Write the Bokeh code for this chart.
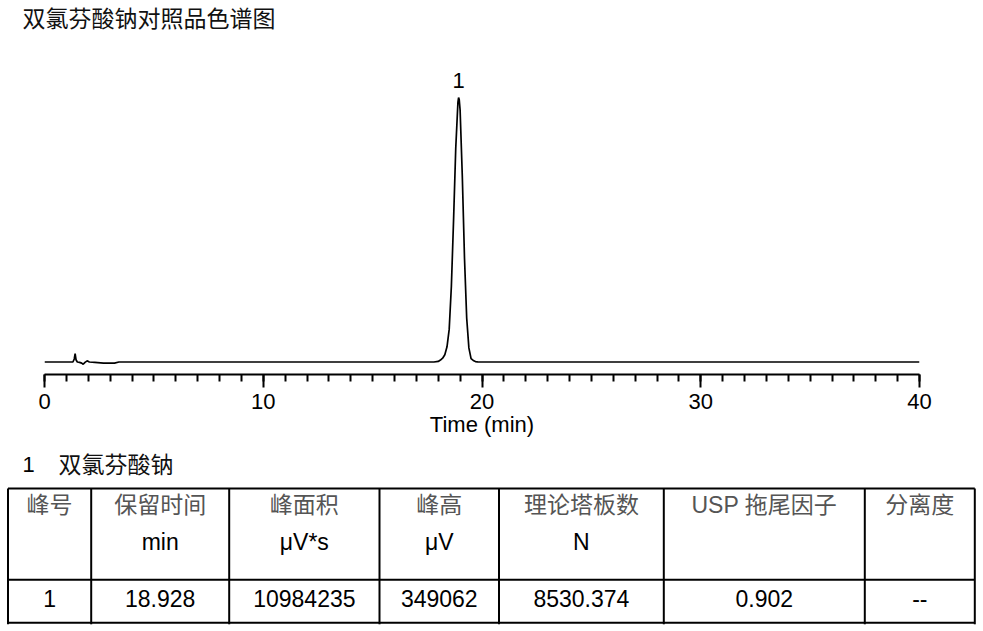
from bokeh.plotting import figure
from bokeh.models import Range1d, SingleIntervalTicker, ColumnDataSource
from bokeh.embed import file_html
from bokeh.resources import INLINE
from bokeh.core.properties import value

# ---------------- data ----------------
title_text = "双氯芬酸钠对照品色谱图"
x_label = "Time (min)"
compound_no = "1"
compound_name = "双氯芬酸钠"

time_min = [0.0, 1.30, 1.36, 1.40, 1.44, 1.50, 1.60, 1.70, 1.77, 1.85, 1.95, 2.05,
            2.30, 2.70, 3.20, 3.40, 17.80, 18.00, 18.10, 18.20, 18.30, 18.40, 18.50,
            18.60, 18.70, 18.80, 18.90, 18.93, 18.96, 19.00, 19.10, 19.20, 19.30,
            19.40, 19.50, 19.60, 19.70, 19.80, 20.00, 40.0]
signal_uv = [0, 0, 4000, 11000, 3000, 0, -500, -1500, -3000, -500, 1500, 0,
             -500, -1500, -1500, 0, 0, 800, 2500, 5000, 9500, 20000, 43000,
             99900, 187200, 282400, 343000, 349062, 346000, 332000, 244800, 136800, 58000,
             18600, 4550, 2000, 600, 150, 0, 0]

peak_labels = ["1"]
peak_times = [18.928]
peak_heights = [349062]

header_line1 = ["峰号", "保留时间", "峰面积", "峰高", "理论塔板数", "USP 拖尾因子", "分离度"]
header_line2 = ["", "min", "μV*s", "μV", "N", "", ""]
row_values = ["1", "18.928", "10984235", "349062", "8530.374", "0.902", "--"]

# ---------------- layout constants (page pixels) ----------------
W, H = 983, 631
FL, FR, FT, FB = 44, 919, 60, 374          # chromatogram frame
LATIN = "Liberation Sans"
CJK = "Noto Sans CJK SC"
MIXED = "Liberation Sans, Noto Sans CJK SC"

px_per_uv = 264.5 / 349062
base_px = 361.5   # page y of 0 µV

p = figure(width=W, height=H, x_range=Range1d(0, 40),
           y_range=Range1d(-(FB - base_px) / px_per_uv, (base_px - FT) / px_per_uv),
           y_axis_location=None, toolbar_location=None, output_backend="svg",
           min_border_left=FL, min_border_right=W - FR,
           min_border_top=FT, min_border_bottom=H - FB)
p.outline_line_color = None
p.xgrid.visible = False
p.ygrid.visible = False
p.background_fill_color = None
p.border_fill_color = "white"

# page-pixel coordinate system for title and table
p.extra_x_ranges = {"px": Range1d(FL, FR)}
p.extra_y_ranges = {"py": Range1d(FB, FT)}
PG = dict(x_range_name="px", y_range_name="py", level="overlay")

# ---- chromatogram ----
src = ColumnDataSource(dict(t=time_min, s=signal_uv))
p.line("t", "s", source=src, line_color="black", line_width=1.7)
p.text(x=peak_times, y=peak_heights, text=peak_labels, text_font=value(LATIN),
       text_font_size="22px", text_color="black", text_align="center",
       text_baseline="bottom", y_offset=-10)

ax = p.xaxis[0]
ax.ticker = SingleIntervalTicker(interval=10, num_minor_ticks=10)
ax.axis_label = x_label
ax.axis_label_text_font = LATIN
ax.axis_label_text_font_size = "22px"
ax.axis_label_text_font_style = "normal"
ax.axis_label_text_color = "black"
ax.axis_label_standoff = 0
ax.major_label_text_font = LATIN
ax.major_label_text_font_size = "22px"
ax.major_label_text_color = "black"
ax.major_label_standoff = 6
ax.axis_line_width = 2
ax.axis_line_color = "black"
ax.major_tick_line_width = 2
ax.major_tick_line_color = "black"
ax.major_tick_in = 0
ax.major_tick_out = 13
ax.minor_tick_line_width = 2
ax.minor_tick_line_color = "black"
ax.minor_tick_in = 0
ax.minor_tick_out = 7

# ---- title ----
p.text(x=[22], y=[16], text=[title_text], text_font=value(CJK), text_font_size="23px",
       text_color="#111111", text_baseline="middle", text_align="left", **PG)

# ---- compound line ----
p.text(x=[22], y=[464], text=[compound_no], text_font=value(LATIN), text_font_size="22px",
       text_color="black", text_baseline="middle", text_align="left", **PG)
p.text(x=[58], y=[462], text=[compound_name], text_font=value(CJK), text_font_size="23px",
       text_color="#111111", text_baseline="middle", text_align="left", **PG)

# ---- table ----
col_edges = [7.5, 90.7, 228.7, 379.0, 498.5, 663.3, 864.3, 974.3]
y_top, y_mid, y_bot = 488.0, 579.3, 622.3
p.segment(x0=[col_edges[0]] * 3, x1=[col_edges[-1]] * 3, y0=[y_top, y_mid, y_bot],
          y1=[y_top, y_mid, y_bot], line_color="black", line_width=2, **PG)
p.segment(x0=col_edges, x1=col_edges, y0=[y_top] * len(col_edges),
          y1=[y_bot + 1.5] * len(col_edges), line_color="black", line_width=2, **PG)

centers = [(a + b) / 2 for a, b in zip(col_edges[:-1], col_edges[1:])]
p.text(x=centers, y=[504] * 7, text=header_line1, text_font=value(MIXED),
       text_font_size="23px", text_color="#555555", text_align="center",
       text_baseline="middle", **PG)
p.text(x=centers, y=[541.5] * 7, text=header_line2, text_font=value(LATIN),
       text_font_size="23px", text_color="black", text_align="center",
       text_baseline="middle", **PG)
p.text(x=centers, y=[597.5] * 7, text=row_values, text_font=value(LATIN),
       text_font_size="23px", text_color="black", text_align="center",
       text_baseline="middle", **PG)

open("out.html", "w").write(file_html(p, INLINE))
